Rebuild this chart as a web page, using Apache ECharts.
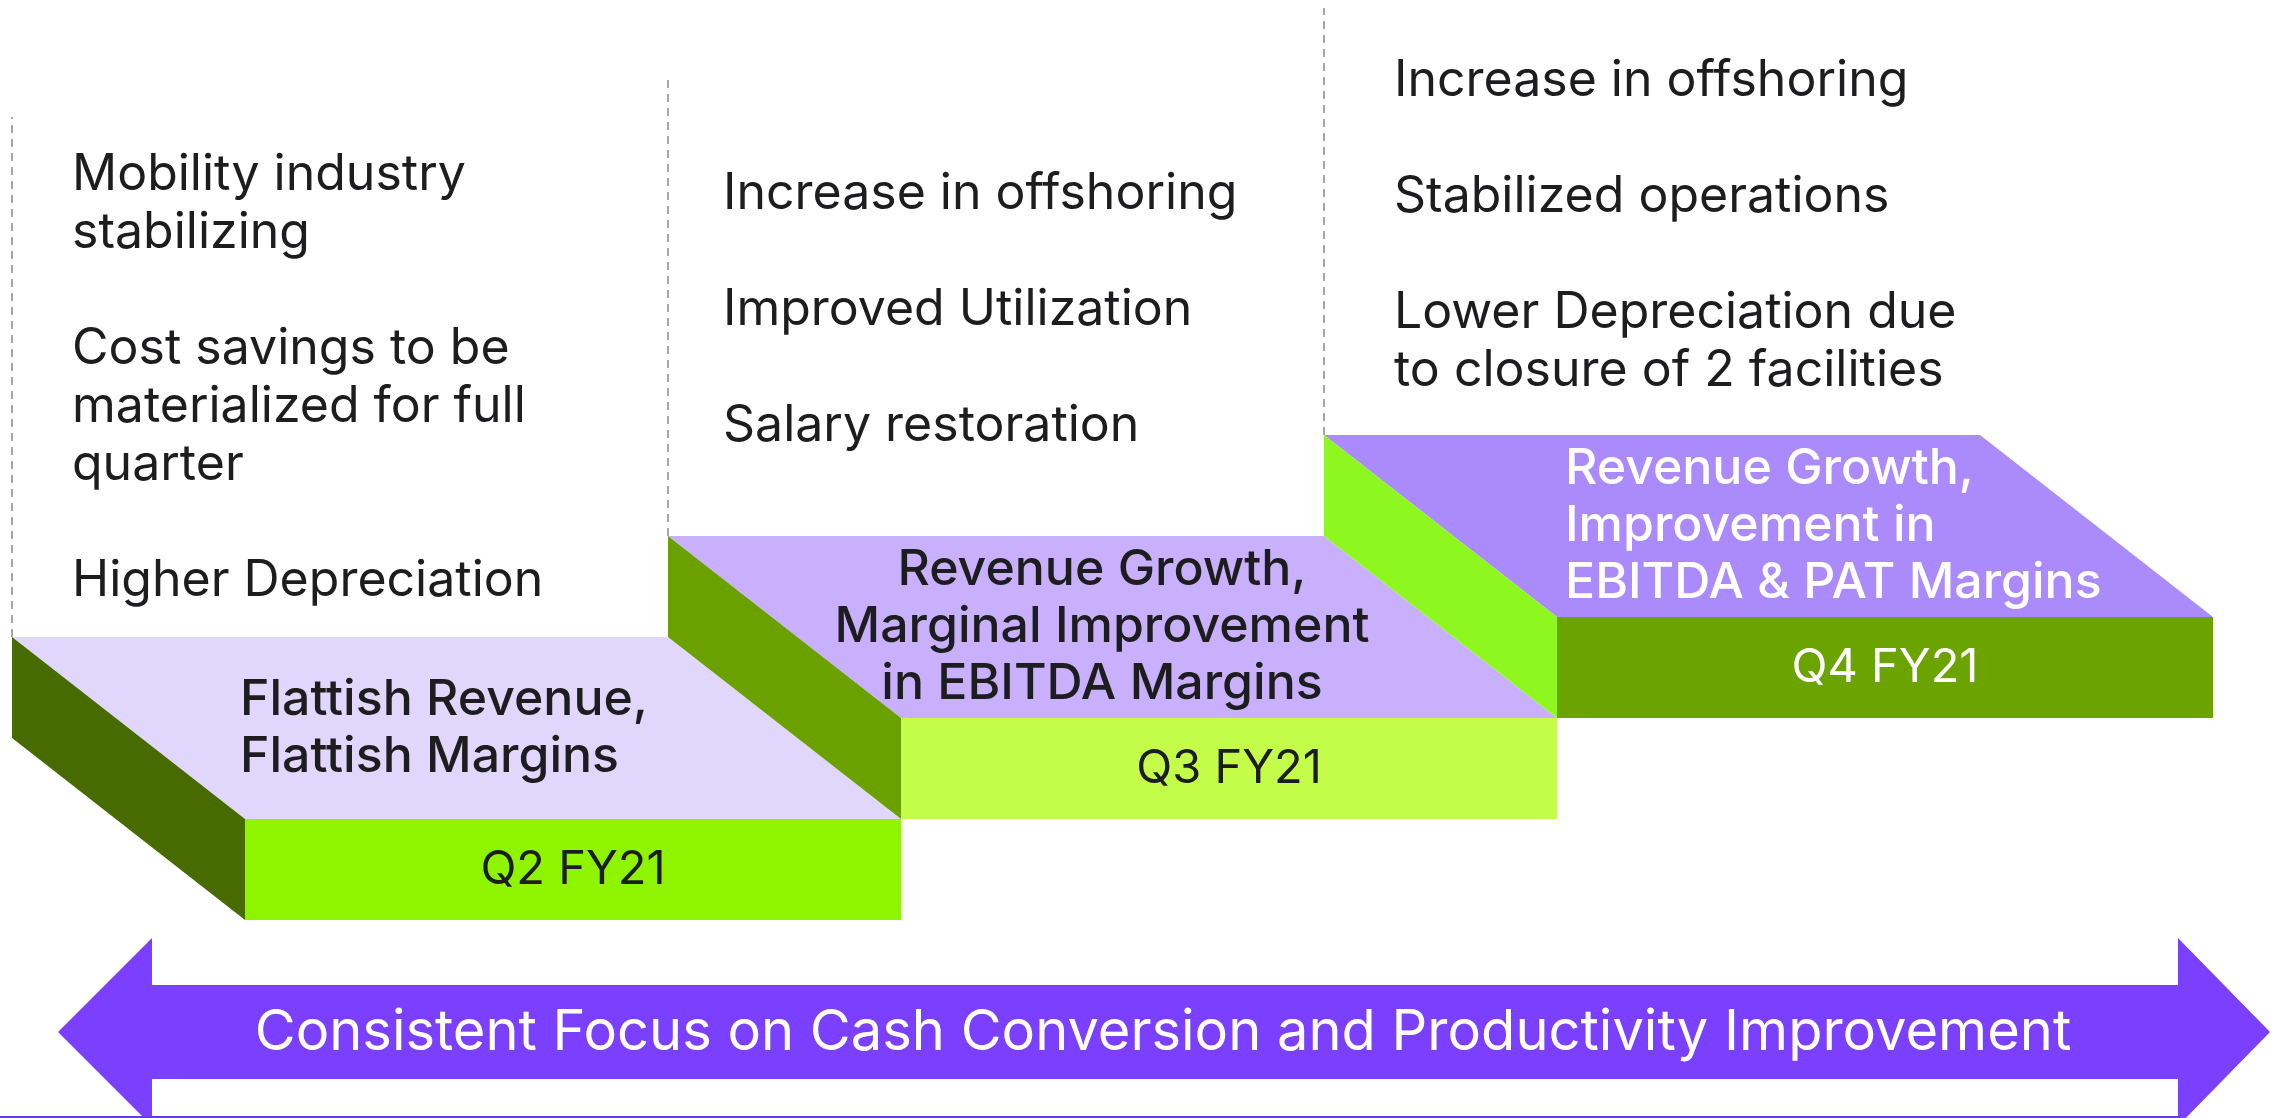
<!DOCTYPE html>
<html>
<head>
<meta charset="utf-8">
<script src="https://cdn.jsdelivr.net/npm/echarts@6/dist/echarts.min.js"></script>
<style>
  html, body { margin: 0; padding: 0; background: #fff; }
  #chart { width: 2286px; height: 1118px; }
</style>
</head>
<body>
<div id="chart"></div>
<script>
const quarters = ['Q2 FY21', 'Q3 FY21', 'Q4 FY21']
const stepLevels = [1, 2, 3]
const outcomes = [
  'Flattish Revenue,\nFlattish Margins',
  'Revenue Growth,\nMarginal Improvement\nin EBITDA Margins',
  'Revenue Growth,\nImprovement in\nEBITDA & PAT Margins',
]
const drivers = [
  ['Mobility industry\nstabilizing', 'Cost savings to be\nmaterialized for full\nquarter', 'Higher Depreciation'],
  ['Increase in offshoring', 'Improved Utilization', 'Salary restoration'],
  ['Increase in offshoring', 'Stabilized operations', 'Lower Depreciation due\nto closure of 2 facilities'],
]
const focusText = 'Consistent Focus on Cash Conversion and Productivity Improvement'

// layout / style
const FONT = 'Inter, "Open Sans", sans-serif'
const DEPTH_X = 233
const DEPTH_Y = 182
const palette = [
  { top: '#e1d7fd', front: '#8ef400', side: '#476b00', text: '#1d1d1f' },
  { top: '#c8b0fc', front: '#c3fd4a', side: '#6aa000', text: '#1d1d1f' },
  { top: '#ab8bfc', front: '#6ba300', side: '#8ef71f', text: '#ffffff' },
]
const outcomeLayout = [
  { dx: 228, align: 'left' },
  { dx: 434, align: 'center' },
  { dx: 241, align: 'left' },
]
const driverLayout = [
  { dx: 60, dy: -491, guide: -520 },
  { dx: 55, dy: -371, guide: -460 },
  { dx: 70, dy: -383, guide: -427 },
]

const renderStep = (params, api) => {
  const i = api.value(0)
  const level = api.value(1)
  const [x0, y0] = api.coord([i, level])
  const x1 = api.coord([i + 1, level])[0]
  const h = api.size([0, 1])[1]
  const w = x1 - x0
  const c = palette[i]
  const fx = x0 + DEPTH_X
  const fy = y0 + DEPTH_Y

  return {
    type: 'group',
    children: [
      {
        type: 'polygon',
        shape: { points: [[x0, y0], [x1, y0], [x1 + DEPTH_X, fy], [fx, fy]] },
        style: { fill: c.top },
      },
      {
        type: 'polygon',
        shape: { points: [[x0, y0], [fx, fy], [fx, fy + h], [x0, y0 + h]] },
        style: { fill: c.side },
      },
      {
        type: 'rect',
        shape: { x: fx, y: fy, width: w, height: h },
        style: { fill: c.front },
      },
      {
        type: 'line',
        shape: { x1: x0, y1: y0, x2: x0, y2: y0 + driverLayout[i].guide },
        style: { stroke: '#8a8a8a', lineWidth: 1.5, lineDash: [8, 6] },
      },
      {
        type: 'text',
        style: {
          text: outcomes[i],
          x: x0 + outcomeLayout[i].dx,
          y: y0 + DEPTH_Y / 2,
          align: outcomeLayout[i].align,
          verticalAlign: 'middle',
          lineHeight: 57,
          fill: c.text,
          font: `500 50px ${FONT}`,
        },
      },
      {
        type: 'text',
        style: {
          text: quarters[i],
          x: fx + w / 2,
          y: fy + h / 2,
          align: 'center',
          verticalAlign: 'middle',
          fill: c.text,
          font: `400 47px ${FONT}`,
        },
      },
      {
        type: 'text',
        style: {
          text: drivers[i].join('\n\n'),
          x: x0 + driverLayout[i].dx,
          y: y0 + driverLayout[i].dy,
          align: 'left',
          verticalAlign: 'top',
          lineHeight: 58,
          fill: '#1d1d1f',
          font: `400 50px ${FONT}`,
        },
      },
    ],
  }
}

const myChart = echarts.init(document.getElementById('chart'))

myChart.setOption({
  animation: false,
  grid: { left: 12, right: 306, top: 31, bottom: 380 },
  xAxis: { type: 'value', min: 0, max: 3, show: false },
  yAxis: { type: 'value', min: 0, max: 7, show: false },
  series: [
    {
      type: 'custom',
      clip: false,
      renderItem: renderStep,
      data: quarters.map((q, i) => [i, stepLevels[i]]),
    },
  ],
  graphic: [
    {
      type: 'polygon',
      shape: {
        points: [
          [58, 1032], [152, 938], [152, 985], [2178, 985], [2178, 938],
          [2270, 1032], [2178, 1126], [2178, 1079], [152, 1079], [152, 1126],
        ],
      },
      style: { fill: '#7a40fe' },
    },
    {
      type: 'line',
      shape: { x1: 0, y1: 1117, x2: 2180, y2: 1117 },
      style: { stroke: '#6a3ae0', lineWidth: 2 },
    },
    {
      type: 'text',
      style: {
        text: focusText,
        x: 1163,
        y: 1033,
        align: 'center',
        verticalAlign: 'middle',
        fill: '#ffffff',
        font: `400 56px ${FONT}`,
      },
    },
  ],
})
</script>
</body>
</html>
